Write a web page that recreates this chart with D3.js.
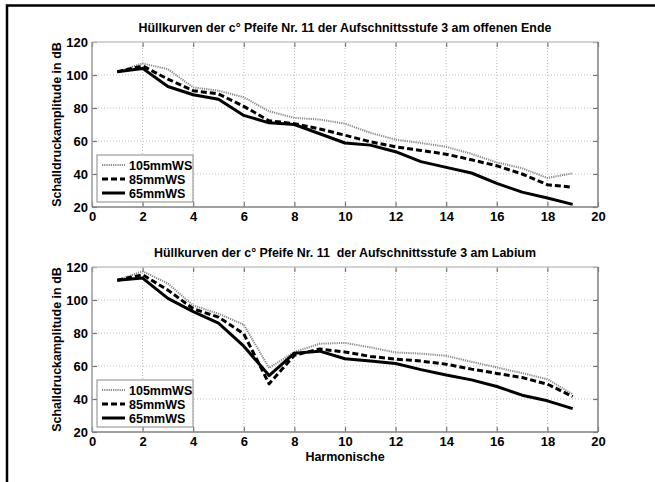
<!DOCTYPE html>
<html><head><meta charset="utf-8">
<script src="https://cdn.jsdelivr.net/npm/d3@7"></script>
<style>body{margin:0;background:#fff}svg{display:block}text{font-family:"Liberation Sans",Arial,sans-serif;font-weight:bold;fill:#000}</style>
</head><body>
<script>
const harmonics = d3.range(1, 20);
const xTicks = [0,2,4,6,8,10,12,14,16,18,20];
const yTicks = [20,40,60,80,100,120];
const seriesNames = ["105mmWS","85mmWS","65mmWS"];
// Top panel: am offenen Ende
const end105 = [102,107,103.5,92.5,90.5,86.5,78,74,73,70.5,65,60.8,58.8,56.5,52.2,47,43.5,37.6,40.4];
const end85  = [102,105.5,97.5,90.5,88.5,81,72.3,70.5,67.3,63.5,59.5,56.5,54.3,52,48.6,45,40,33.5,32];
const end65  = [102,104,93,88,85.3,75.5,71,70,64.4,58.8,57.5,53.5,47.5,44,40.6,34.3,29,25.5,21.6];
// Bottom panel: am Labium
const lab105 = [112,117.4,110,96.7,91.7,85,58.8,68.5,73.5,74,71.3,68.2,67.5,66.2,62.6,59.1,55.7,52,42.9];
const lab85  = [112,115.3,106,94.7,89.6,79.5,49.2,66.5,70.3,68.5,65.8,64.2,63,61.1,58.1,55.5,53,49,41.5];
const lab65  = [112,113.3,101,93,86,72,54.2,67.8,69,64.4,63,61.5,57.8,54.5,51.6,47.6,42.3,38.9,34.2];
const titles = ["Hüllkurven der c° Pfeife Nr. 11 der Aufschnittsstufe 3 am offenen Ende",
                "Hüllkurven der c° Pfeife Nr. 11  der Aufschnittsstufe 3 am Labium"];
const yLabel = "Schalldruckamplitude in dB";
const xLabel = "Harmonische";

const W = 655, H = 482;
const svg = d3.select("body").append("svg").attr("width", W).attr("height", H);
svg.append("rect").attr("width", W).attr("height", H).attr("fill", "#fff");
// outer frame (only top/left visible)
svg.append("rect").attr("x", 7).attr("y", 5.5).attr("width", 700).attr("height", 600)
  .attr("fill", "none").attr("stroke", "#000").attr("stroke-width", 2.5);

const styles = [
  {stroke:"#8a8a8a", width:2, dash:"1.2,1"},
  {stroke:"#000", width:3, dash:"6,3"},
  {stroke:"#000", width:3, dash:null}
];

const panels = [
  {top:42, bottom:207, data:[end105,end85,end65], title:titles[0], showX:false},
  {top:267, bottom:432, data:[lab105,lab85,lab65], title:titles[1], showX:true}
];

const L = 92, R = 598;
panels.forEach(p => {
  const x = d3.scaleLinear().domain([0,20]).range([L,R]);
  const y = d3.scaleLinear().domain([20,120]).range([p.bottom,p.top]);
  const g = svg.append("g");
  // grid
  g.selectAll(".gx").data(xTicks.slice(1,-1)).join("line")
    .attr("x1", d=>x(d)).attr("x2", d=>x(d)).attr("y1", p.top).attr("y2", p.bottom)
    .attr("stroke", "#bdbdbd").attr("stroke-width", 1).attr("stroke-dasharray", "1,2");
  g.selectAll(".gy").data(yTicks.slice(1,-1)).join("line")
    .attr("y1", d=>y(d)).attr("y2", d=>y(d)).attr("x1", L).attr("x2", R)
    .attr("stroke", "#bdbdbd").attr("stroke-width", 1).attr("stroke-dasharray", "1,2");
  // axes via d3 axis (ticks inside)
  const xa = g.append("g").attr("transform", `translate(0,${p.bottom})`)
    .call(d3.axisBottom(x).tickValues(xTicks).tickSize(-5).tickPadding(5).tickFormat(d3.format("d")));
  const xa2 = g.append("g").attr("transform", `translate(0,${p.top})`)
    .call(d3.axisTop(x).tickValues(xTicks).tickSize(-5).tickFormat(""));
  const ya = g.append("g").attr("transform", `translate(${L},0)`)
    .call(d3.axisLeft(y).tickValues(yTicks).tickSize(-5).tickPadding(4));
  const ya2 = g.append("g").attr("transform", `translate(${R},0)`)
    .call(d3.axisRight(y).tickValues(yTicks).tickSize(-5).tickFormat(""));
  [xa,xa2,ya,ya2].forEach(a => {
    a.select(".domain").remove();
    a.selectAll(".tick line").attr("stroke", "#777").attr("stroke-width", 1.2);
    a.selectAll("text").attr("font-size", 13).attr("font-weight", "bold")
      .attr("font-family", "Liberation Sans, Arial, sans-serif").attr("fill", "#000");
  });
  // box
  g.append("line").attr("x1", L).attr("x2", R).attr("y1", p.top).attr("y2", p.top).attr("stroke", "#c4c4c4").attr("stroke-width", 1.5);
  g.append("line").attr("x1", L).attr("x2", L).attr("y1", p.top).attr("y2", p.bottom).attr("stroke", "#9a9a9a").attr("stroke-width", 1.5);
  g.append("line").attr("x1", R).attr("x2", R).attr("y1", p.top).attr("y2", p.bottom).attr("stroke", "#808080").attr("stroke-width", 1.5);
  g.append("line").attr("x1", L).attr("x2", R).attr("y1", p.bottom).attr("y2", p.bottom).attr("stroke", "#808080").attr("stroke-width", 1.5);
  // series
  const line = d3.line().x((d,i)=>x(harmonics[i])).y(d=>y(d));
  p.data.forEach((s,k) => {
    g.append("path").datum(s).attr("d", line).attr("fill", "none")
      .attr("stroke", styles[k].stroke).attr("stroke-width", styles[k].width)
      .attr("stroke-dasharray", styles[k].dash).attr("stroke-linejoin", "round");
  });
  // title
  g.append("text").attr("x", (L+R)/2).attr("y", p.top - 10).attr("text-anchor", "middle")
    .attr("font-size", 12.4).style("white-space", "pre").text(p.title);
  // y label
  g.append("text").attr("transform", `translate(61,${(p.top+p.bottom)/2}) rotate(-90)`)
    .attr("text-anchor", "middle").attr("font-size", 12.5).text(yLabel);
  // legend
  const lx = 97, ly = p.bottom - 52;
  g.append("rect").attr("x", lx).attr("y", ly).attr("width", 96).attr("height", 47)
    .attr("fill", "#fff").attr("stroke", "#888").attr("stroke-width", 1);
  seriesNames.forEach((n,k) => {
    const yy = ly + 10 + k*14;
    g.append("line").attr("x1", lx+5).attr("x2", lx+28).attr("y1", yy).attr("y2", yy)
      .attr("stroke", styles[k].stroke).attr("stroke-width", styles[k].width).attr("stroke-dasharray", styles[k].dash);
    g.append("text").attr("x", lx+32).attr("y", yy).attr("dy", "0.36em").attr("font-size", 12.5).text(n);
  });
  if (p.showX) {
    g.append("text").attr("x", (L+R)/2).attr("y", p.bottom + 29).attr("text-anchor", "middle")
      .attr("font-size", 12.5).text(xLabel);
  }
});
</script>
</body></html>
